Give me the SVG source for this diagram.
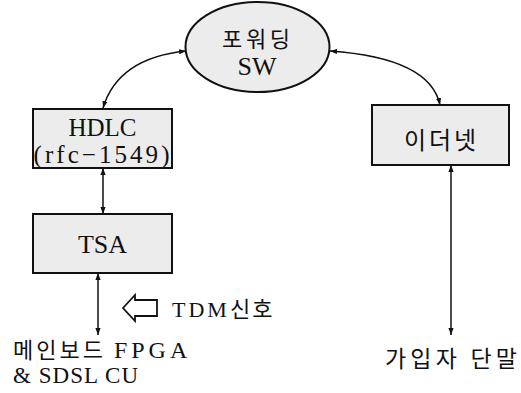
<svg xmlns="http://www.w3.org/2000/svg" width="521" height="393" viewBox="0 0 521 393">
<style>
.box{fill:#ececec;stroke:#111;stroke-width:2}
.ln{fill:none;stroke:#111;stroke-width:1.5}
.t{font-family:"Liberation Serif","Noto Sans CJK KR",serif;fill:#111}
.k{font-family:"Noto Sans CJK KR",sans-serif;fill:#111}
</style>
<defs>
<marker id="ah" viewBox="0 0 8 6" refX="8" refY="3" markerWidth="7" markerHeight="5.5" markerUnits="userSpaceOnUse" orient="auto-start-reverse">
<path d="M0,0 L8,3 L0,6 Z" fill="#111"/>
</marker>
</defs>
<rect width="521" height="393" fill="#fff"/>
<g id="connectors">
<path class="ln" d="M103,108 Q118,58 186,51" marker-start="url(#ah)" marker-end="url(#ah)"/>
<path class="ln" d="M330,51 Q430,58 440,105" marker-start="url(#ah)" marker-end="url(#ah)"/>
<line class="ln" x1="103" y1="168" x2="103" y2="214" marker-start="url(#ah)" marker-end="url(#ah)"/>
<line class="ln" x1="98" y1="273" x2="98" y2="335" marker-start="url(#ah)" marker-end="url(#ah)"/>
<line class="ln" x1="451" y1="165" x2="451" y2="335" marker-start="url(#ah)" marker-end="url(#ah)"/>
</g>
<g id="sw">
<ellipse class="box" cx="257.5" cy="47" rx="72" ry="45"/>
<text class="k" x="256" y="47" font-size="22" text-anchor="middle" textLength="68" lengthAdjust="spacing">포워딩</text>
<text class="t" x="257" y="75" font-size="26" text-anchor="middle">SW</text>
</g>
<g id="hdlc">
<rect class="box" x="33" y="109" width="139" height="59"/>
<text class="t" x="102.5" y="136" font-size="25" text-anchor="middle">HDLC</text>
<text class="t" x="101.5" y="163" font-size="25" text-anchor="middle" textLength="136" lengthAdjust="spacing">(rfc−1549)</text>
</g>
<g id="tsa">
<rect class="box" x="33" y="214" width="139" height="59"/>
<text class="t" x="102.5" y="253" font-size="26" text-anchor="middle">TSA</text>
</g>
<g id="ethernet">
<rect class="box" x="372" y="105" width="137" height="60"/>
<text class="k" x="440" y="149" font-size="24" text-anchor="middle" textLength="72" lengthAdjust="spacing">이더넷</text>
</g>
<g id="tdm">
<polygon points="123,308 135,295 135,300 157,300 157,316 135,316 135,321" fill="#fff" stroke="#111" stroke-width="1.8"/>
<text class="t" x="172" y="317" font-size="22" letter-spacing="3">TDM<tspan class="k" letter-spacing="2">신호</tspan></text>
</g>
<g id="mainboard">
<text class="k" x="13" y="358" font-size="22" letter-spacing="3">메인보드 <tspan class="t" font-size="24" letter-spacing="4">FPGA</tspan></text>
<text class="t" x="13" y="383" font-size="23" textLength="125" lengthAdjust="spacing">&amp; SDSL CU</text>
</g>
<g id="subscriber">
<text class="k" x="385" y="367" font-size="23" textLength="132" lengthAdjust="spacing">가입자 단말</text>
</g>
</svg>
